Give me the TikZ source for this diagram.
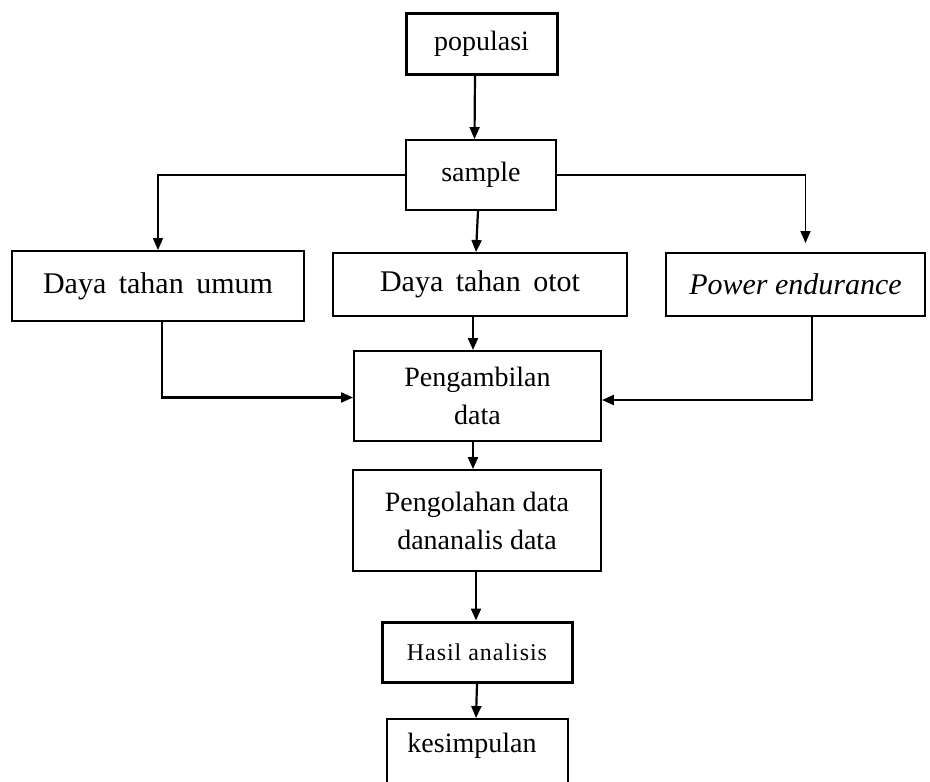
\documentclass[tikz,border=0pt]{standalone}
\usepackage{fontspec}
\setmainfont{Liberation Serif}
\usetikzlibrary{arrows.meta}
\begin{document}
\begin{tikzpicture}[x=1pt,y=-1pt,
  box/.style={draw,line width=1.9pt,rectangle,inner sep=0pt,align=center,font=\fontsize{28}{38}\selectfont},
  thickbox/.style={box,line width=3pt},
  big/.style={font=\fontsize{30}{36}\selectfont},
  arr/.style={line width=2.2pt,-{Triangle[length=12pt,width=10pt]}},
  thinarr/.style={arr,line width=1.7pt}]
\useasboundingbox (0,0) rectangle (930,782);
\clip (0,0) rectangle (930,782);
% boxes
\node[thickbox,minimum width=151pt,minimum height=61pt] (pop) at (481.5,43.5) {populasi};
\node[box,minimum width=150pt,minimum height=70pt] (samp) at (481,175) {sample};
\node[box,big,minimum width=292pt,minimum height=70pt] (dtu) at (158,286) {Daya\ \,tahan\ \,umum};
\node[box,big,minimum width=294pt,minimum height=63pt] (dto) at (480,284.5) {Daya\ \,tahan\ \,otot};
\node[box,big,minimum width=259pt,minimum height=63pt] (pe) at (795.5,284.5) {\itshape Power endurance};
\node[box,minimum width=247pt,minimum height=90pt] (peng) at (477.5,396) {Pengambilan\\data};
\node[box,minimum width=248pt,minimum height=101pt] (olah) at (477,520.5) {Pengolahan data\\dananalis data};
\node[thickbox,font=\fontsize{24}{28}\selectfont\addfontfeature{LetterSpace=4},minimum width=190pt,minimum height=60pt] (hasil) at (477,652) {Hasil analisis};
\node[box,minimum width=181pt,minimum height=100pt,anchor=north] (kes) at (477.5,718) {};
\node[font=\fontsize{28}{34}\selectfont,inner sep=0pt] (kestext) at (472,746) {kesimpulan};
% connectors
\draw[arr] ([xshift=-6.5pt]pop.south) -- ([xshift=-6.5pt]samp.north);
\draw[thinarr] (samp.west) -| (dtu.north);
\draw[thinarr] (samp.east) -| ([xshift=10pt,yshift=9pt]pe.north);
\draw[arr] ([xshift=-3pt]samp.south) -- ([xshift=-4pt]dto.north);
\draw[arr] ([xshift=4pt]dtu.south) |- ([yshift=-1.5pt]peng.west);
\draw[arr] ([xshift=-7pt]dto.south) -- ([xshift=-4.5pt]peng.north);
\draw[arr] ([xshift=16.5pt]pe.south) |- ([yshift=-4pt]peng.east);
\draw[arr] ([xshift=-4.5pt]peng.south) -- ([xshift=-4pt]olah.north);
\draw[arr] ([xshift=-1pt]olah.south) -- ([xshift=-1pt]hasil.north);
\draw[arr] (hasil.south) -- ([xshift=-1.5pt]kes.north);
\end{tikzpicture}
\end{document}
